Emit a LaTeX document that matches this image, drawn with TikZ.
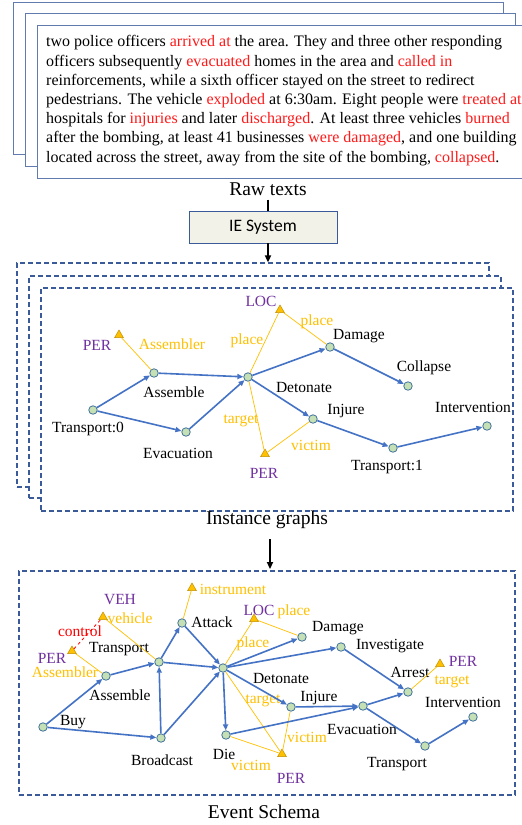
\documentclass[tikz,border=0pt]{standalone}
\usepackage{fontspec}
\setmainfont{Liberation Serif}
\newfontfamily\calibri{Carlito}
\usetikzlibrary{arrows.meta,shapes.geometric}
\definecolor{edgeblue}{HTML}{4472C4}
\definecolor{nodegreen}{HTML}{C5E0B4}
\definecolor{nodeborder}{HTML}{41719C}
\definecolor{rolegold}{HTML}{FFC000}
\definecolor{argborder}{HTML}{BF8F00}
\definecolor{typepurple}{HTML}{7030A0}
\definecolor{boxblue}{HTML}{3B5A9A}
\definecolor{rawred}{HTML}{FF1A1A}
\definecolor{iefill}{HTML}{F2F2E8}
\tikzset{
  ev/.style={circle,draw=nodeborder,fill=nodegreen,minimum size=8.5pt,inner sep=0pt,line width=0.8pt},
  arg/.style={regular polygon,regular polygon sides=3,draw=argborder,fill=rolegold,minimum size=10pt,inner sep=0pt,line width=0.5pt},
  lbl/.style={font=\fontsize{15.5}{18}\selectfont,inner sep=0pt},
  role/.style={lbl,text=rolegold},
  etype/.style={lbl,text=typepurple},
  flow/.style={-{Triangle[length=6pt,width=5pt]},edgeblue,line width=1.6pt},
  rel/.style={rolegold,line width=0.7pt},
  rawbox/.style={draw=boxblue!80,fill=white,line width=0.8pt,inner sep=0pt},
  dashbox/.style={draw=boxblue,fill=white,dash pattern=on 5pt off 3pt,line width=1.2pt,inner sep=0pt},
  caption/.style={font=\fontsize{19.5}{22}\selectfont,inner sep=0pt},
  bigarrow/.style={-{Triangle[length=7pt,width=6pt]},black,line width=1.6pt},
}
\begin{document}
\begin{tikzpicture}[x=1pt,y=-1pt]
  \useasboundingbox (0,0) rectangle (522,825);
  % raw texts
  \node[rawbox,minimum width=490,minimum height=152](r1) at (258,78) {};
  \node[rawbox,minimum width=490,minimum height=153](r2) at (270,89.5) {};
  \node[rawbox,minimum width=487,minimum height=153](r3) at (280.5,101.5) {};
  \node[anchor=north west,align=left,inner sep=0pt,font=\fontsize{16}{19.2}\selectfont](raw) at (46,35.5)
  {two police officers \textcolor{rawred}{arrived at} the area. They and three other responding\\
   officers subsequently \textcolor{rawred}{evacuated} homes in the area and \textcolor{rawred}{called in}\\
   reinforcements, while a sixth officer stayed on the street to redirect\\
   pedestrians. The vehicle \textcolor{rawred}{exploded} at 6:30am. Eight people were \textcolor{rawred}{treated at}\\
   hospitals for \textcolor{rawred}{injuries} and later \textcolor{rawred}{discharged}. At least three vehicles \textcolor{rawred}{burned}\\
   after the bombing, at least 41 businesses \textcolor{rawred}{were damaged}, and one building\\
   located across the street, away from the site of the bombing, \textcolor{rawred}{collapsed}.};
  \node[caption](rawlbl) at (268,189) {Raw texts};
  \node[draw=boxblue,fill=iefill,line width=0.8pt,minimum width=148,minimum height=32,font=\calibri\fontsize{17.5}{20}\selectfont](ie) at (263,227) {IE System};
  \draw[black,line width=1.6pt] (rawlbl.south) ++(0,4) -- (rawlbl.south |- ie.north);

  % instance graphs
  \node[dashbox,minimum width=472,minimum height=224](ig1) at (253,375) {};
  \node[dashbox,minimum width=472,minimum height=222](ig2) at (265,387) {};
  \node[dashbox,minimum width=472,minimum height=223](ig3) at (277,399.5) {};
  \draw[bigarrow] (ie.south -| rawlbl.south) -- (rawlbl.south |- ig1.north);
  \node[caption](iglbl) at (267,520) {Instance graphs};

  \node[ev](t0) at (93,410) {};
  \node[ev](asm) at (154,373) {};
  \node[ev](evac) at (186,432) {};
  \node[ev](det) at (248,377) {};
  \node[ev](dmg) at (330,347) {};
  \node[ev](col) at (408,386) {};
  \node[ev](inj) at (313,419) {};
  \node[ev](t1) at (393,448) {};
  \node[ev](intv) at (487,426) {};
  \node[lbl](t0l) at (88,429) {Transport:0};
  \node[lbl](asml) at (174,392) {Assemble};
  \node[lbl](evacl) at (178,453) {Evacuation};
  \node[lbl](detl) at (304,387) {Detonate};
  \node[lbl](dmgl) at (359,336) {Damage};
  \node[lbl](coll) at (424,368) {Collapse};
  \node[lbl](injl) at (346,411) {Injure};
  \node[lbl](t1l) at (387,467) {Transport:1};
  \node[lbl](intvl) at (473,407) {Intervention};

  \node[arg](aper) at (119,335) {};
  \node[arg](aloc) at (280,310) {};
  \node[arg](avic) at (265,454) {};
  \node[etype](aperl) at (97,345) {PER};
  \node[role](aperr) at (172,344) {Assembler};
  \node[etype](alocl) at (261,301) {LOC};
  \node[role](alocr1) at (317,322) {place};
  \node[role](alocr2) at (247,341) {place};
  \node[etype](avicl) at (264,473) {PER};
  \node[role](avicr1) at (241,421) {target};
  \node[role](avicr2) at (311,445) {victim};

  \draw[rel] (aper) -- (asm);
  \draw[rel] (aloc) -- (det);
  \draw[rel] (aloc) -- (dmg);
  \draw[rel] (avic) -- (det);
  \draw[rel] (avic) -- (inj);

  \draw[flow] (t0) -- (asm);
  \draw[flow] (t0) -- (evac);
  \draw[flow] (asm) -- (det);
  \draw[flow] (evac) -- (det);
  \draw[flow] (det) -- (dmg);
  \draw[flow] (dmg) -- (col);
  \draw[flow] (det) -- (inj);
  \draw[flow] (inj) -- (t1);
  \draw[flow] (t1) -- (intv);

  % event schema
  \node[dashbox,minimum width=496,minimum height=224](es) at (267,683) {};
  \draw[bigarrow] (iglbl.south) ++(3,10) -- ++(0,30);
  \node[caption](eslbl) at (264,812) {Event Schema};

  \node[ev](buy) at (43,727) {};
  \node[ev](asm2) at (106,676) {};
  \node[ev](tr) at (159,662) {};
  \node[ev](att) at (182,623) {};
  \node[ev](det2) at (223,668) {};
  \node[ev](dmg2) at (302,637) {};
  \node[ev](inv) at (341,647) {};
  \node[ev](arr) at (408,692) {};
  \node[ev](intv2) at (473,717) {};
  \node[ev](inj2) at (291,707) {};
  \node[ev](evac2) at (363,706) {};
  \node[ev](tr2) at (425,746) {};
  \node[ev](die) at (226,735) {};
  \node[ev](brd) at (161,738) {};
  \node[lbl](buyl) at (73,722) {Buy};
  \node[lbl](asm2l) at (120,695) {Assemble};
  \node[lbl](trl) at (119,649) {Transport};
  \node[lbl](attl) at (212,622) {Attack};
  \node[lbl](det2l) at (281,678) {Detonate};
  \node[lbl](dmg2l) at (338,628) {Damage};
  \node[lbl](invl) at (390,646) {Investigate};
  \node[lbl](arrl) at (410,672) {Arrest};
  \node[lbl](intv2l) at (463,702) {Intervention};
  \node[lbl](inj2l) at (319,698) {Injure};
  \node[lbl](evac2l) at (362,729) {Evacuation};
  \node[lbl](tr2l) at (397,764) {Transport};
  \node[lbl](diel) at (224,754) {Die};
  \node[lbl](brdl) at (162,760) {Broadcast};

  \node[arg](ains) at (192,588) {};
  \node[arg](aveh) at (103,617) {};
  \node[arg](aper2) at (72,651) {};
  \node[arg](aloc2) at (254,619) {};
  \node[arg](avic2) at (282,754) {};
  \node[arg](aper3) at (440,664) {};
  \node[role](ainsr) at (233,589) {instrument};
  \node[etype](avehl) at (120,600) {VEH};
  \node[role](avehr) at (130,618) {vehicle};
  \node[etype](aper2l) at (52,658) {PER};
  \node[role](aper2r) at (65,672) {Assembler};
  \node[lbl,text=red](ctrl) at (80,631) {control};
  \node[etype](aloc2l) at (259,610) {LOC};
  \node[role](aloc2r1) at (294,612) {place};
  \node[role](aloc2r2) at (253,644) {place};
  \node[etype](avic2l) at (291,778) {PER};
  \node[role](avic2r1) at (263,701) {target};
  \node[role](avic2r2) at (307,737) {victim};
  \node[role](avic2r3) at (251,765) {victim};
  \node[etype](aper3l) at (463,661) {PER};
  \node[role](aper3r) at (452,682) {target};

  \draw[rel] (ains) -- (att);
  \draw[rel] (aveh) -- (tr);
  \draw[rel] (aper2) -- (asm2);
  \draw[red,dashed,line width=0.8pt] (aper2) -- (aveh);
  \draw[rel] (aloc2) -- (dmg2);
  \draw[rel] (aloc2) -- (det2);
  \draw[rel] (avic2) -- (det2);
  \draw[rel] (avic2) -- (inj2);
  \draw[rel] (avic2) -- (die);
  \draw[rel] (aper3) -- (arr);

  \draw[flow] (buy) -- (asm2);
  \draw[flow] (buy) -- (brd);
  \draw[flow] (asm2) -- (tr);
  \draw[flow] (brd) -- (tr);
  \draw[flow] (brd) -- (det2);
  \draw[flow] (tr) -- (att);
  \draw[flow] (tr) -- (det2);
  \draw[flow] (att) -- (det2);
  \draw[flow] (det2) -- (dmg2);
  \draw[flow] (det2) -- (inv);
  \draw[flow] (det2) -- (inj2);
  \draw[flow] (det2) -- (die);
  \draw[flow] (die) -- (evac2);
  \draw[flow] (inj2) -- (evac2);
  \draw[flow] (evac2) -- (arr);
  \draw[flow] (inv) -- (arr);
  \draw[flow] (evac2) -- (tr2);
  \draw[flow] (tr2) -- (intv2);
\end{tikzpicture}
\end{document}
